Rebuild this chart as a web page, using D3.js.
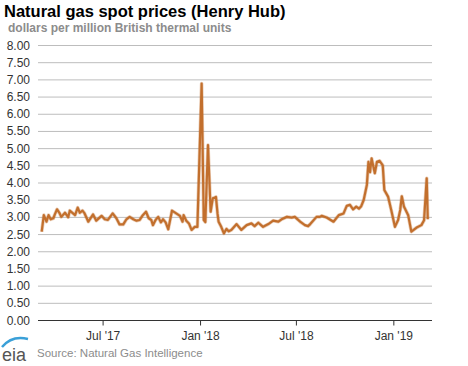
<!DOCTYPE html>
<html><head><meta charset="utf-8">
<script src="https://cdn.jsdelivr.net/npm/d3@7"></script>
<style>body{margin:0;background:#fff}svg{display:block}</style>
</head><body><svg id="c" width="468" height="366"></svg>
<script>
const title = "Natural gas spot prices (Henry Hub)";
const subtitle = "dollars per million British thermal units";
const source = "Source: Natural Gas Intelligence";
const yTicks = [0,0.5,1,1.5,2,2.5,3,3.5,4,4.5,5,5.5,6,6.5,7,7.5,8];
const xTickDates = ["2017-07-01","2018-01-01","2018-07-01","2019-01-01"];
const xTickLabels = ["Jul '17","Jan '18","Jul '18","Jan '19"];
const dates = ["2017-03-08","2017-03-12","2017-03-17","2017-03-21","2017-03-25","2017-03-30","2017-04-02","2017-04-06","2017-04-11","2017-04-14","2017-04-21","2017-04-27","2017-04-30","2017-05-10","2017-05-15","2017-05-19","2017-05-24","2017-05-28","2017-06-04","2017-06-13","2017-06-19","2017-06-29","2017-07-05","2017-07-11","2017-07-20","2017-07-27","2017-08-02","2017-08-09","2017-08-15","2017-08-21","2017-08-28","2017-09-03","2017-09-09","2017-09-14","2017-09-21","2017-09-26","2017-10-01","2017-10-04","2017-10-09","2017-10-14","2017-10-19","2017-10-23","2017-10-28","2017-11-02","2017-11-09","2017-11-17","2017-11-24","2017-11-29","2017-12-01","2017-12-06","2017-12-11","2017-12-16","2017-12-22","2017-12-27","2018-01-04","2018-01-08","2018-01-11","2018-01-16","2018-01-21","2018-01-25","2018-01-29","2018-01-31","2018-02-03","2018-02-05","2018-02-10","2018-02-15","2018-02-20","2018-02-24","2018-03-01","2018-03-04","2018-03-11","2018-03-20","2018-03-30","2018-04-08","2018-04-14","2018-04-21","2018-04-30","2018-05-10","2018-05-19","2018-05-29","2018-06-04","2018-06-14","2018-06-23","2018-06-29","2018-07-09","2018-07-18","2018-07-24","2018-07-28","2018-08-09","2018-08-15","2018-08-19","2018-08-28","2018-09-10","2018-09-20","2018-09-29","2018-10-05","2018-10-11","2018-10-17","2018-10-23","2018-10-28","2018-11-01","2018-11-06","2018-11-12","2018-11-15","2018-11-18","2018-11-21","2018-11-27","2018-12-01","2018-12-06","2018-12-12","2018-12-15","2018-12-22","2018-12-28","2019-01-04","2019-01-10","2019-01-14","2019-01-17","2019-01-21","2019-01-29","2019-02-04","2019-02-14","2019-02-23","2019-02-28","2019-03-05","2019-03-07"];
const prices = [2.57,3.05,2.86,3.05,2.93,2.96,3.08,3.22,3.10,3.00,3.12,2.99,3.18,3.05,3.27,3.12,3.18,3.10,2.86,3.07,2.89,3.03,2.93,2.91,3.10,2.96,2.78,2.78,2.93,3.00,2.93,2.89,2.91,3.03,3.15,2.96,2.91,2.76,2.91,3.00,2.84,2.93,2.84,2.64,3.18,3.10,3.03,2.86,3.05,2.89,2.81,2.62,2.71,2.71,6.88,2.91,2.85,5.09,3.15,3.54,3.56,3.58,3.10,2.86,2.71,2.52,2.65,2.58,2.62,2.67,2.79,2.62,2.76,2.81,2.73,2.83,2.71,2.79,2.89,2.86,2.93,3.00,2.98,3.00,2.86,2.76,2.73,2.79,3.00,3.00,3.03,2.98,2.86,3.05,3.10,3.32,3.35,3.22,3.30,3.24,3.30,3.49,3.93,4.60,4.30,4.70,4.27,4.60,4.63,4.50,3.78,3.59,3.20,2.71,2.91,3.20,3.60,3.30,3.05,2.57,2.69,2.76,2.90,4.12,2.93];

const parse = d3.timeParse("%Y-%m-%d");
const data = dates.map((d,i)=>({date:parse(d), v:prices[i]}));
const svg = d3.select("#c");
const L=38, R=432, T=45, B=320;
const x = d3.scaleTime().domain([parse("2017-03-01"), parse("2019-03-15")]).range([L,R]);
const y = d3.scaleLinear().domain([0,8]).range([B,T]);
const font = "'Liberation Sans', Arial, sans-serif";

svg.append("text").attr("x",4).attr("y",17).attr("font-family",font).attr("font-size",16.5).attr("font-weight","bold").attr("fill","#000").text(title);
svg.append("text").attr("x",8).attr("y",32).attr("font-family",font).attr("font-size",12).attr("font-weight","bold").attr("fill","#8c8c8c").text(subtitle);

svg.append("g").selectAll("line").data(yTicks.filter(t=>t>0)).join("line")
  .attr("x1",L).attr("x2",R).attr("y1",d=>y(d)+0.5).attr("y2",d=>y(d)+0.5)
  .attr("stroke","#bdbdbd").attr("stroke-width",1);

svg.append("g").selectAll("text").data(yTicks).join("text")
  .attr("x",30).attr("y",d=>y(d)+4.5).attr("text-anchor","end")
  .attr("font-family",font).attr("font-size",12).attr("fill","#333")
  .text(d=>d3.format(".2f")(d));

const xa = svg.append("g").attr("transform",`translate(0,${B+0.5})`)
  .call(d3.axisBottom(x).tickValues(xTickDates.map(parse)).tickSize(5).tickFormat((d,i)=>xTickLabels[i]));
xa.select(".domain").attr("stroke","#333").attr("d",`M${L},0H${R}`);
xa.selectAll(".tick line").attr("stroke","#333");
xa.selectAll(".tick text").attr("font-family",font).attr("font-size",12).attr("fill","#333").attr("dy","0.95em");

const line = d3.line().x(d=>x(d.date)).y(d=>y(d.v));
svg.append("path").datum(data)
  .attr("fill","none").attr("stroke","#c26f2d").attr("stroke-opacity",0.35).attr("stroke-width",3.6).attr("stroke-linejoin","round")
  .attr("d", line);
svg.append("path").datum(data)
  .attr("fill","none").attr("stroke","#c26f2d").attr("stroke-width",2.2).attr("stroke-linejoin","round")
  .attr("d", line);

svg.append("text").attr("x",37).attr("y",357).attr("font-family",font).attr("font-size",11.5).attr("fill","#8c8c8c").text(source);

const lg = svg.append("g");
lg.append("path").attr("d","M2,347 Q12,335 28,339").attr("fill","none").attr("stroke","#3aa0d8").attr("stroke-width",2.5);
lg.append("text").attr("x",2).attr("y",361).attr("font-family",font).attr("font-size",18).attr("fill","#555").text("eia");
</script></body></html>
